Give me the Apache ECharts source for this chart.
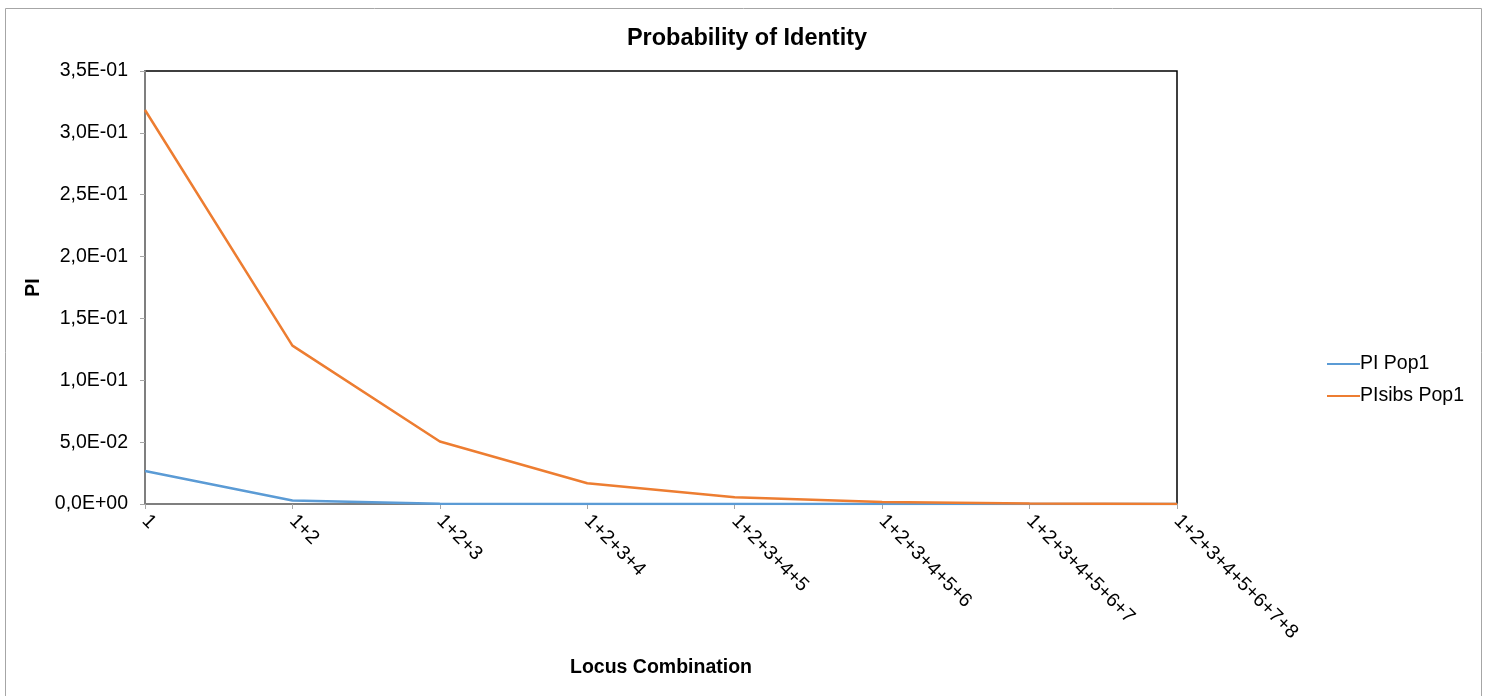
<!DOCTYPE html>
<html>
<head>
<meta charset="utf-8">
<script src="https://cdn.jsdelivr.net/npm/echarts@6/dist/echarts.min.js"></script>
<style>html,body{margin:0;padding:0;background:#fff;}#c{width:1489px;height:696px;}</style>
</head>
<body>
<div id="c"></div>
<script>
const categories = ['1','1+2','1+2+3','1+2+3+4','1+2+3+4+5','1+2+3+4+5+6','1+2+3+4+5+6+7','1+2+3+4+5+6+7+8'];
const piPop1 = [0.0266, 0.0028, 0.0003, 0.00003, 0.000003, 0.0000003, 0.00000003, 0.000000003];
const piSibsPop1 = [0.3185, 0.128, 0.0505, 0.0168, 0.0054, 0.0016, 0.0004, 0.0001];
const seriesNames = ['PI Pop1', 'PIsibs Pop1'];

function fmt(v) {
  if (v === 0) return '0,0E+00';
  const e = Math.floor(Math.log10(Math.abs(v)) + 1e-9);
  const m = v / Math.pow(10, e);
  const sign = e < 0 ? '-' : '+';
  const ea = Math.abs(e);
  return m.toFixed(1).replace('.', ',') + 'E' + sign + (ea < 10 ? '0' : '') + ea;
}

const font = 'Liberation Sans, Arial, sans-serif';
const fs = 19.5;
const chart = echarts.init(document.getElementById('c'));
chart.setOption({
  animation: false,
  backgroundColor: '#fff',
  title: {
    text: 'Probability of Identity',
    left: 742, top: 22, textAlign: 'center',
    textStyle: { fontFamily: font, fontSize: 23.5, fontWeight: 'bold', color: '#000' }
  },
  graphic: [{
    type: 'rect', shape: { x: 5.5, y: 8.5, width: 1476, height: 690 },
    style: { fill: 'none', stroke: '#a6a6a6', lineWidth: 1 }, silent: true
  }],
  legend: {
    orient: 'vertical', left: 1322, top: 349, itemWidth: 33, itemHeight: 2, itemGap: 12,
    icon: 'rect',
    textStyle: { fontFamily: font, fontSize: fs, color: '#000', padding: [0,0,0,-5] },
    data: seriesNames
  },
  grid: { left: 145, right: 312, top: 71, bottom: 192, show: true, borderColor: '#000', borderWidth: 1.5 },
  xAxis: {
    type: 'category', data: categories, boundaryGap: false,
    name: 'Locus Combination', nameLocation: 'middle', nameGap: 154,
    nameTextStyle: { fontFamily: font, fontSize: fs, fontWeight: 'bold', color: '#000' },
    axisLine: { lineStyle: { color: '#7f7f7f', width: 2 } },
    axisTick: { show: true, length: 5, lineStyle: { color: '#a6a6a6' } },
    axisLabel: { rotate: -45, margin: 14, fontFamily: font, fontSize: fs, color: '#000', interval: 0 },
    splitLine: { show: false }
  },
  yAxis: {
    type: 'value', min: 0, max: 0.35, interval: 0.05,
    name: 'PI', nameLocation: 'middle', nameGap: 100, nameRotate: 90,
    nameTextStyle: { fontFamily: font, fontSize: fs, fontWeight: 'bold', color: '#000' },
    axisLine: { show: true, lineStyle: { color: '#7f7f7f', width: 2 } },
    axisTick: { show: true, length: 5, lineStyle: { color: '#a6a6a6' } },
    axisLabel: { formatter: fmt, margin: 17, fontFamily: font, fontSize: fs, color: '#000' },
    splitLine: { show: false }
  },
  series: [
    { name: seriesNames[0], type: 'line', data: piPop1, symbol: 'none', smooth: false,
      lineStyle: { color: '#5b9bd5', width: 2.5 }, itemStyle: { color: '#5b9bd5' } },
    { name: seriesNames[1], type: 'line', data: piSibsPop1, symbol: 'none', smooth: false,
      lineStyle: { color: '#ed7d31', width: 2.5 }, itemStyle: { color: '#ed7d31' } }
  ]
});
</script>
</body>
</html>
